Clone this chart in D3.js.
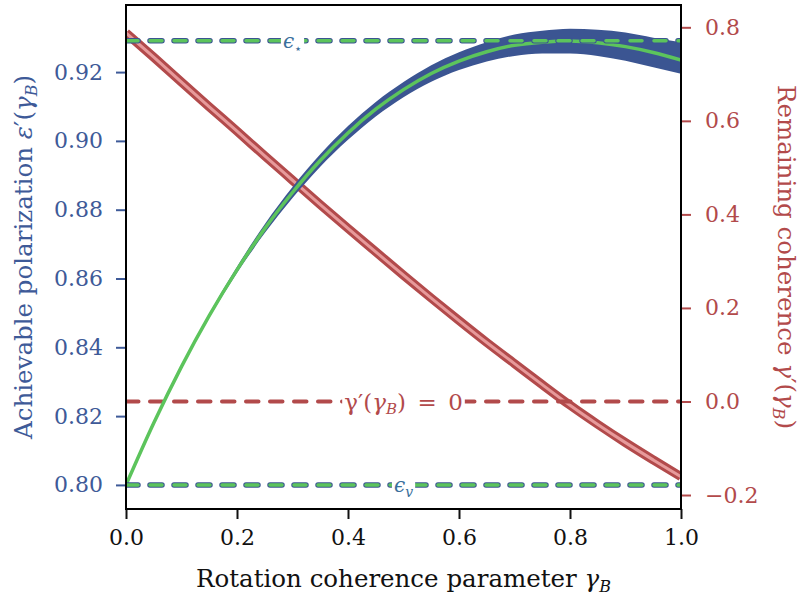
<!DOCTYPE html>
<html>
<head>
<meta charset="utf-8">
<script src="https://cdn.jsdelivr.net/npm/d3@7"></script>
<style>
  body { margin: 0; background: #fff; }
  svg text { font-family: "DejaVu Serif", serif; }
</style>
</head>
<body>
<div id="chart"></div>
<script>
// data
var gammaB = [0, 0.05, 0.1, 0.15, 0.2, 0.25, 0.3, 0.35, 0.4, 0.45, 0.5,
              0.55, 0.6, 0.65, 0.7, 0.75, 0.8, 0.85, 0.9, 0.95, 1.0];
var epsMid = [0.8000, 0.8180, 0.8344, 0.8492, 0.8625, 0.8745, 0.8850, 0.8943, 0.9023, 0.9092, 0.9149,
              0.9196, 0.9232, 0.9259, 0.9278, 0.9287, 0.9290, 0.9285, 0.9274, 0.9257, 0.9235];
var epsLow = [0.8000, 0.8179, 0.8341, 0.8486, 0.8616, 0.8732, 0.8834, 0.8925, 0.9003, 0.9071, 0.9127,
              0.9172, 0.9206, 0.9231, 0.9247, 0.9254, 0.9254, 0.9247, 0.9233, 0.9214, 0.9195];
var epsHigh = [0.8000, 0.8181, 0.8347, 0.8498, 0.8634, 0.8758, 0.8866, 0.8961, 0.9043, 0.9113, 0.9171,
               0.9220, 0.9258, 0.9287, 0.9309, 0.9320, 0.9326, 0.9323, 0.9315, 0.9300, 0.9287];
var gammaPrime = [0.788, 0.736, 0.683, 0.630, 0.578, 0.525, 0.473, 0.421, 0.370, 0.320, 0.270,
                  0.221, 0.173, 0.126, 0.081, 0.036, -0.008, -0.049, -0.088, -0.125, -0.161];
var epsStar = 0.9291;
var epsV = 0.80;
var gammaZero = 0.0;
var xTicks = [0, 0.2, 0.4, 0.6, 0.8, 1.0];
var leftTicks = [0.80, 0.82, 0.84, 0.86, 0.88, 0.90, 0.92];
var rightTicks = [-0.2, 0, 0.2, 0.4, 0.6, 0.8];

var W = 801, H = 601;
var L = 126, R = 681, T = 5, B = 509;
var BLUE = "#3b5592", BLUETXT = "#3e5a98", RED = "#b24a4b", PINK = "#e79a9b", GREEN = "#5cc45c";

var svg = d3.select("#chart").append("svg")
	.attr("width", W)
	.attr("height", H);

var x = d3.scaleLinear().domain([0, 1]).range([L, R]);
var yL = d3.scaleLinear().domain([0.7930, 0.9395]).range([B, T]);
var yR = d3.scaleLinear().domain([-0.2299, 0.8477]).range([B, T]);

svg.append("clipPath").attr("id", "clip")
	.append("rect").attr("x", L).attr("y", T).attr("width", R - L).attr("height", B - T);

var plot = svg.append("g").attr("clip-path", "url(#clip)");

var pts = gammaB.map(function(g, i) { return i; });

// red curve (remaining coherence)
var redLine = d3.line()
	.x(function(i) { return x(gammaB[i]); })
	.y(function(i) { return yR(gammaPrime[i]); })
	.curve(d3.curveMonotoneX);
plot.append("path").attr("d", redLine(pts))
	.attr("fill", "none").attr("stroke", RED).attr("stroke-width", 9);
plot.append("path").attr("d", redLine(pts))
	.attr("fill", "none").attr("stroke", PINK).attr("stroke-width", 3);

// dashed reference line with an inline label on a white patch
function refLine(yv, scale, at, label, opts)
{
	var g = plot.append("g");
	var yy = scale(yv);
	if (opts.outline)
	{
		g.append("line").attr("x1", L).attr("x2", R).attr("y1", yy).attr("y2", yy)
			.attr("stroke", opts.outline).attr("stroke-width", 5.5)
			.attr("stroke-dasharray", "12,12").attr("stroke-linecap", "round");
	}
	g.append("line").attr("x1", L).attr("x2", R).attr("y1", yy).attr("y2", yy)
		.attr("stroke", opts.color).attr("stroke-width", opts.width)
		.attr("stroke-dasharray", opts.outline ? "12,12" : "12.5,11.5").attr("stroke-linecap", "round");
	var bg = g.append("rect").attr("fill", "#fff");
	var t = g.append("text")
		.attr("x", x(at)).attr("y", yy).attr("dy", "0.35em")
		.attr("text-anchor", "middle")
		.style("font-size", opts.size)
		.attr("fill", opts.text)
		.html(label);
	var bb = t.node().getBBox();
	bg.attr("x", bb.x - 2).attr("y", bb.y).attr("width", bb.width + 4).attr("height", bb.height);
}

// red zero line
refLine(gammaZero, yR, 0.5, "γ′(<tspan font-style='italic'>γ</tspan><tspan font-size='15px' font-style='italic' dy='4'>B</tspan><tspan dy='-4'>)\u2002=\u20020</tspan>",
	{ color: RED, width: 4, text: RED, size: "23px" });

// blue band + green curve
var band = d3.area()
	.x(function(i) { return x(gammaB[i]); })
	.y0(function(i) { return yL(epsLow[i]); })
	.y1(function(i) { return yL(epsHigh[i]); })
	.curve(d3.curveMonotoneX);
plot.append("path").attr("d", band(pts)).attr("fill", BLUE);

var greenLine = d3.line()
	.x(function(i) { return x(gammaB[i]); })
	.y(function(i) { return yL(epsMid[i]); })
	.curve(d3.curveMonotoneX);
plot.append("path").attr("d", greenLine(pts))
	.attr("fill", "none").attr("stroke", GREEN).attr("stroke-width", 3.5);

refLine(epsStar, yL, 0.3, "<tspan font-style='italic'>ϵ</tspan><tspan font-size='13px' dy='5'>⋆</tspan>",
	{ color: GREEN, width: 3.5, outline: BLUE, text: "#3a6f9c", size: "20px" });
refLine(epsV, yL, 0.5, "<tspan font-style='italic'>ϵ</tspan><tspan font-size='14px' font-style='italic' dy='5'>v</tspan>",
	{ color: GREEN, width: 3.5, outline: BLUE, text: "#3a6f9c", size: "20px" });

// axes
var fontSz = "22px", titleSz = "24.5px";
var gx = svg.append("g").attr("transform", "translate(0," + B + ")")
	.call(d3.axisBottom(x).tickValues(xTicks).tickFormat(d3.format(".1f")).tickSize(10).tickPadding(10));
gx.selectAll("text").style("font-size", fontSz).attr("fill", "#111");
gx.selectAll("line").attr("stroke", "#111").attr("stroke-width", 2);

var gl = svg.append("g").attr("transform", "translate(" + L + ",0)")
	.call(d3.axisLeft(yL).tickValues(leftTicks).tickFormat(d3.format(".2f")).tickSize(10).tickPadding(13));
gl.selectAll("text").style("font-size", fontSz).attr("fill", BLUETXT);
gl.selectAll("line").attr("stroke", BLUETXT).attr("stroke-width", 2);

var gr = svg.append("g").attr("transform", "translate(" + R + ",0)")
	.call(d3.axisRight(yR).tickValues(rightTicks)
		.tickFormat(function(d) { return d < 0 ? "−" + Math.abs(d).toFixed(1) : d.toFixed(1); })
		.tickSize(10).tickPadding(14));
gr.selectAll("text").style("font-size", fontSz).attr("fill", RED);
gr.selectAll("line").attr("stroke", RED).attr("stroke-width", 2);

svg.selectAll(".domain").remove();
svg.append("rect").attr("x", L).attr("y", T).attr("width", R - L).attr("height", B - T)
	.attr("fill", "none").attr("stroke", "#000").attr("stroke-width", 2);

// axis titles
svg.append("text")
	.attr("x", (L + R) / 2).attr("y", 587)
	.attr("text-anchor", "middle").style("font-size", titleSz).attr("fill", "#111")
	.html("Rotation coherence parameter <tspan font-style='italic'>γ</tspan><tspan font-size='16px' font-style='italic' dy='5'>B</tspan>");

svg.append("text")
	.attr("transform", "translate(32," + (T + B) / 2 + ") rotate(-90)")
	.attr("text-anchor", "middle").style("font-size", titleSz).attr("fill", BLUETXT)
	.html("Achievable polarization <tspan font-style='italic'>ε</tspan>′(<tspan font-style='italic'>γ</tspan><tspan font-size='16px' font-style='italic' dy='5'>B</tspan><tspan dy='-5'>)</tspan>");

svg.append("text")
	.attr("transform", "translate(778," + (T + B) / 2 + ") rotate(90)")
	.attr("text-anchor", "middle").style("font-size", titleSz).attr("fill", RED)
	.html("Remaining coherence <tspan font-style='italic'>γ</tspan>′(<tspan font-style='italic'>γ</tspan><tspan font-size='16px' font-style='italic' dy='5'>B</tspan><tspan dy='-5'>)</tspan>");
</script>
</body>
</html>
